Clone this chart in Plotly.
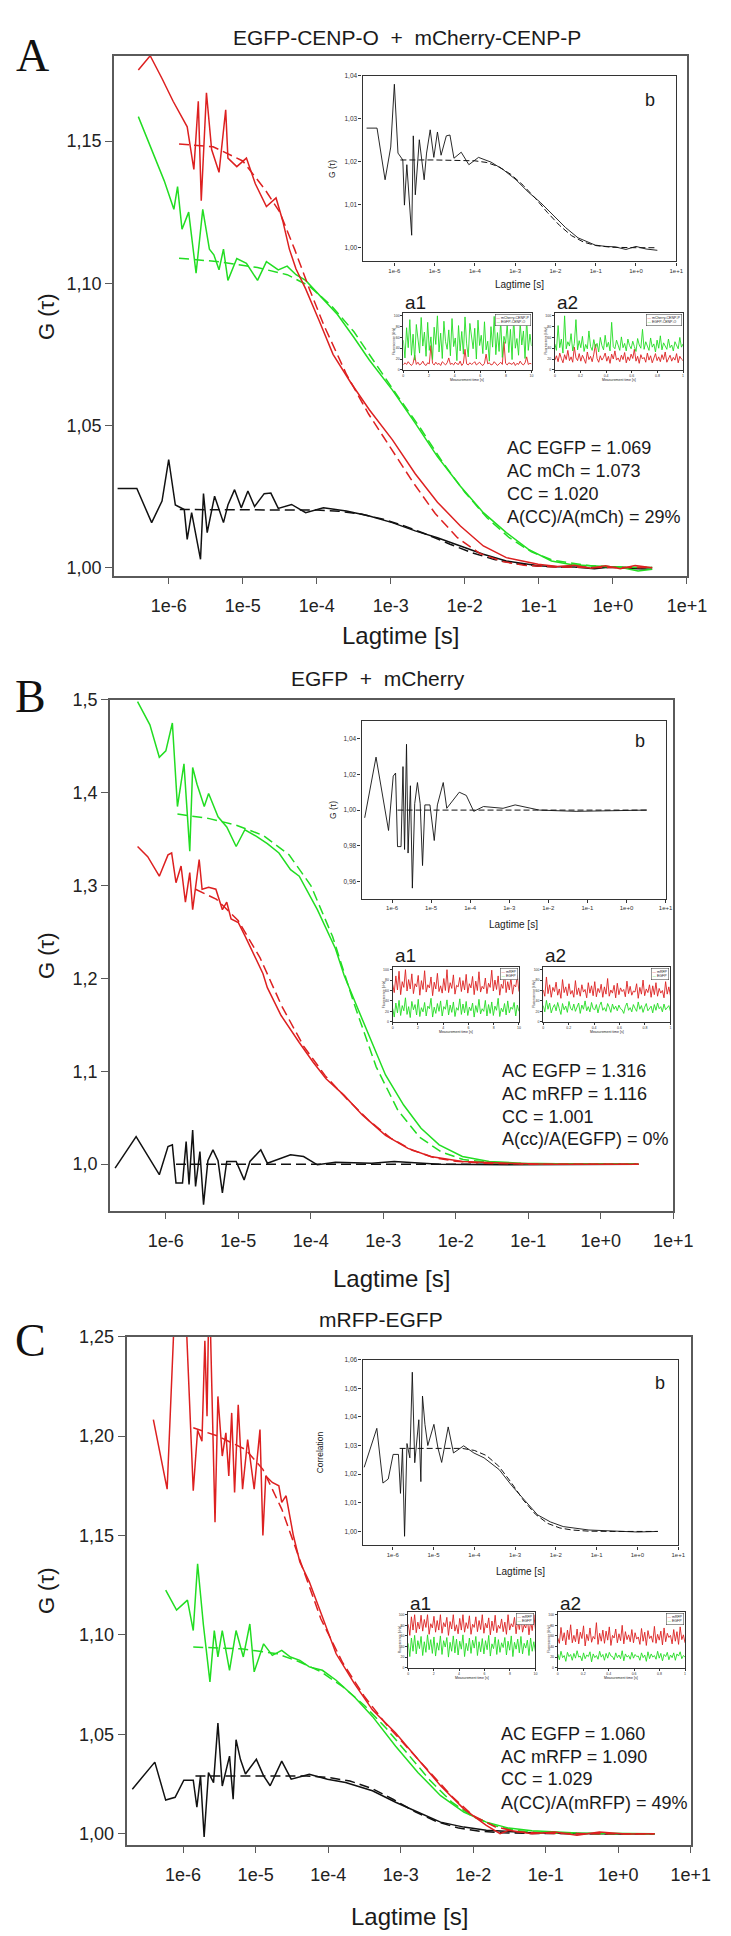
import numpy as np
import plotly.graph_objects as go

# ---------------- data (lag times as log10 seconds) ----------------
A_red_t = [-6.41,-6.25,-6.09,-5.94,-5.75,-5.66,-5.60,-5.56,-5.49,-5.42,-5.32,-5.23,-5.20,-5.08,-4.95,-4.83,-4.68,-4.55,-4.46,-4.37,-4.28,-4.15,-3.97,-3.78,-3.54,-3.29,-2.98,-2.67,-2.37,-2.06,-1.75,-1.44,-1.01,-0.75,-0.52,-0.30,-0.10,0.10,0.30,0.53]
A_red_g = [1.175,1.180,1.172,1.164,1.155,1.140,1.164,1.129,1.167,1.147,1.139,1.161,1.144,1.141,1.144,1.135,1.127,1.130,1.122,1.112,1.105,1.098,1.087,1.075,1.065,1.0555,1.045,1.033,1.023,1.0146,1.0076,1.0035,1.0012,1.0004,1.0008,0.9998,1.0006,0.9996,1.0007,0.9999]
A_red_fit_t = [-5.86,-5.4,-5.0,-4.7,-4.5,-4.3,-4.1,-3.9,-3.6,-3.3,-3.0,-2.7,-2.4,-2.1,-1.8,-1.5,-1.2,-0.8,-0.3,0.2,0.53]
A_red_fit_g = [1.149,1.148,1.143,1.133,1.125,1.112,1.098,1.085,1.068,1.054,1.042,1.030,1.019,1.0105,1.005,1.0022,1.0008,1.0002,1.0,1.0,1.0]
A_green_t = [-6.41,-6.25,-6.06,-5.93,-5.88,-5.82,-5.73,-5.63,-5.54,-5.45,-5.39,-5.32,-5.26,-5.20,-5.08,-4.95,-4.80,-4.68,-4.52,-4.40,-4.28,-4.15,-3.97,-3.72,-3.50,-3.29,-2.98,-2.67,-2.37,-2.06,-1.75,-1.44,-1.14,-0.83,-0.55,-0.33,-0.10,0.10,0.34,0.53]
A_green_g = [1.1586,1.148,1.136,1.126,1.134,1.119,1.125,1.1035,1.126,1.112,1.110,1.1047,1.112,1.101,1.1087,1.107,1.101,1.1076,1.1047,1.106,1.103,1.101,1.096,1.089,1.081,1.073,1.0625,1.0508,1.039,1.0286,1.0193,1.0123,1.0064,1.0023,1.0010,1.0006,1.0004,1.0001,0.9988,0.9994]
A_green_fit_t = [-5.86,-5.3,-4.8,-4.4,-4.1,-3.8,-3.5,-3.2,-2.9,-2.6,-2.3,-2.0,-1.7,-1.4,-1.1,-0.8,-0.3,0.2,0.53]
A_green_fit_g = [1.1088,1.1075,1.1055,1.103,1.099,1.092,1.083,1.0715,1.060,1.049,1.037,1.0265,1.0175,1.0105,1.0055,1.0025,1.0006,1.0001,1.0]
A_black_t = [-6.69,-6.43,-6.23,-6.09,-6.00,-5.91,-5.79,-5.75,-5.69,-5.65,-5.57,-5.53,-5.48,-5.38,-5.26,-5.20,-5.11,-5.02,-4.93,-4.84,-4.71,-4.62,-4.52,-4.34,-4.15,-3.91,-3.60,-3.29,-2.98,-2.67,-2.37,-2.06,-1.75,-1.44,-1.01,-0.75,-0.52,-0.25,0.0,0.25,0.53]
A_black_g = [1.0278,1.0278,1.0158,1.0234,1.038,1.022,1.0204,1.0099,1.0193,1.0140,1.0029,1.026,1.0123,1.0251,1.0158,1.0220,1.0274,1.0210,1.0269,1.0215,1.026,1.0262,1.0208,1.0222,1.0193,1.0210,1.0199,1.0181,1.0158,1.0129,1.0105,1.0076,1.0047,1.0023,1.0006,1.0003,1.0002,0.9996,1.0003,0.9997,0.9994]
A_black_fit_t = [-5.85,-5.0,-4.0,-3.7,-3.4,-3.1,-2.8,-2.5,-2.2,-1.9,-1.6,-1.3,-1.0,-0.6,0.0,0.53]
A_black_fit_g = [1.0204,1.0204,1.0202,1.0198,1.0188,1.0170,1.0145,1.0115,1.0082,1.0052,1.0028,1.0013,1.0005,1.0001,1.0,1.0]

B_red_t = [-6.39,-6.25,-6.09,-5.97,-5.92,-5.86,-5.79,-5.73,-5.67,-5.63,-5.54,-5.50,-5.41,-5.31,-5.22,-5.16,-5.10,-5.00,-4.91,-4.78,-4.66,-4.60,-4.41,-4.16,-3.97,-3.79,-3.54,-3.29,-2.97,-2.66,-2.35,-1.91,-1.29,-0.70,0.0,0.52]
B_red_g = [1.342,1.331,1.310,1.333,1.335,1.303,1.321,1.282,1.314,1.274,1.328,1.296,1.298,1.296,1.274,1.282,1.264,1.260,1.246,1.225,1.205,1.190,1.160,1.131,1.110,1.092,1.074,1.053,1.031,1.017,1.0082,1.0029,1.001,1.0,1.0,1.0]
B_red_fit_t = [-5.59,-5.3,-5.0,-4.7,-4.4,-4.1,-3.8,-3.5,-3.2,-2.9,-2.6,-2.3,-2.0,-1.6,-1.0,-0.4,0.52]
B_red_fit_g = [1.296,1.285,1.262,1.222,1.170,1.127,1.095,1.070,1.047,1.028,1.015,1.007,1.003,1.001,1.0,1.0,1.0]
B_green_t = [-6.39,-6.22,-6.09,-6.00,-5.91,-5.84,-5.75,-5.67,-5.63,-5.57,-5.47,-5.41,-5.28,-5.16,-5.03,-4.91,-4.75,-4.60,-4.44,-4.28,-4.16,-3.91,-3.66,-3.54,-3.35,-3.16,-2.97,-2.72,-2.48,-2.23,-1.91,-1.54,-1.10,-0.60,0.0,0.52]
B_green_g = [1.498,1.473,1.438,1.445,1.475,1.385,1.431,1.337,1.427,1.409,1.385,1.399,1.374,1.363,1.342,1.360,1.353,1.345,1.335,1.317,1.310,1.274,1.232,1.203,1.167,1.131,1.096,1.0636,1.0386,1.0207,1.0082,1.0029,1.001,1.0005,1.0,1.0]
B_green_fit_t = [-5.84,-5.4,-5.03,-4.66,-4.3,-4.0,-3.7,-3.4,-3.1,-2.8,-2.5,-2.2,-1.9,-1.5,-1.0,-0.4,0.52]
B_green_fit_g = [1.377,1.372,1.365,1.354,1.333,1.300,1.245,1.172,1.105,1.058,1.029,1.013,1.005,1.0015,1.0003,1.0,1.0]
B_black_t = [-6.70,-6.41,-6.09,-5.97,-5.91,-5.86,-5.77,-5.72,-5.68,-5.63,-5.59,-5.53,-5.48,-5.42,-5.35,-5.28,-5.22,-5.16,-5.03,-4.92,-4.84,-4.69,-4.60,-4.41,-4.28,-4.10,-3.91,-3.66,-3.16,-2.85,-2.23,-1.29,-0.5,0.52]
B_black_g = [0.9957,1.0296,0.9886,1.019,1.0207,0.9796,0.9796,1.0243,0.978,1.0368,0.976,1.0136,0.9564,1.0036,1.0154,1.0036,0.969,1.0029,1.0029,0.983,1.0029,1.0154,1.001,1.0064,1.0100,1.0082,0.9993,1.002,1.001,1.0029,1.0,0.9993,0.9996,1.0]
B_black_fit_t = [-5.86,0.52]
B_black_fit_g = [1.0,1.0]

C_red_t = [-6.41,-6.22,-6.11,-5.96,-5.86,-5.80,-5.74,-5.70,-5.67,-5.64,-5.56,-5.52,-5.46,-5.41,-5.37,-5.33,-5.29,-5.24,-5.18,-5.11,-5.02,-4.94,-4.90,-4.86,-4.77,-4.68,-4.64,-4.58,-4.48,-4.39,-4.26,-4.14,-4.08,-3.89,-3.64,-3.39,-3.07,-2.76,-2.45,-2.13,-1.82,-1.63,-1.51,-1.19,-0.88,-0.57,-0.26,0.1,0.5]
C_red_g = [1.2083,1.1733,1.27,1.26,1.1725,1.203,1.1975,1.248,1.21,1.28,1.1567,1.22,1.19,1.2017,1.18,1.2117,1.1717,1.2158,1.1733,1.1983,1.1733,1.2033,1.15,1.18,1.1767,1.175,1.1667,1.17,1.15,1.1367,1.1267,1.115,1.1088,1.0905,1.0756,1.0623,1.0507,1.0374,1.0241,1.0125,1.0042,1.0,1.0017,1.0,1.0008,0.9992,1.0008,0.9998,1.0]
C_red_fit_t = [-5.86,-5.52,-5.14,-4.9,-4.64,-4.39,-4.1,-3.8,-3.5,-3.2,-2.9,-2.6,-2.3,-2.0,-1.7,-1.4,-1.0,-0.5,0.5]
C_red_fit_g = [1.2042,1.20,1.1933,1.1833,1.1633,1.138,1.108,1.086,1.069,1.055,1.043,1.031,1.019,1.009,1.0035,1.001,1.0002,1.0,1.0]
C_green_t = [-6.24,-6.09,-5.94,-5.86,-5.80,-5.72,-5.63,-5.57,-5.52,-5.46,-5.36,-5.27,-5.17,-5.08,-5.02,-4.89,-4.77,-4.64,-4.52,-4.39,-4.26,-4.08,-3.89,-3.64,-3.39,-3.07,-2.76,-2.45,-2.13,-1.82,-1.51,-1.19,-0.57,0.0,0.5]
C_green_g = [1.1225,1.1125,1.1175,1.1022,1.1358,1.105,1.0764,1.1022,1.0889,1.1022,1.0822,1.1022,1.0889,1.1055,1.0814,1.0955,1.0897,1.0922,1.0889,1.0872,1.0839,1.0822,1.0772,1.0689,1.059,1.044,1.0307,1.0191,1.0108,1.0058,1.0028,1.0015,1.0003,1.0,1.0]
C_green_fit_t = [-5.86,-5.2,-4.7,-4.4,-4.1,-3.8,-3.5,-3.2,-2.9,-2.6,-2.3,-2.0,-1.7,-1.4,-1.0,-0.5,0.5]
C_green_fit_g = [1.0939,1.093,1.0905,1.0865,1.0815,1.074,1.0645,1.053,1.040,1.027,1.016,1.0085,1.004,1.0015,1.0004,1.0,1.0]
C_black_t = [-6.70,-6.39,-6.24,-6.11,-5.99,-5.86,-5.81,-5.76,-5.71,-5.65,-5.58,-5.52,-5.46,-5.36,-5.31,-5.27,-5.21,-5.14,-4.99,-4.89,-4.80,-4.64,-4.51,-4.39,-4.26,-4.01,-3.76,-3.39,-3.07,-2.76,-2.45,-2.13,-1.82,-1.19,-0.6,0.0,0.5]
C_black_g = [1.0224,1.036,1.0169,1.0183,1.0269,1.0269,1.0133,1.0291,0.9983,1.0307,1.0257,1.0556,1.024,1.039,1.0174,1.0473,1.0374,1.030,1.0374,1.0291,1.0241,1.0365,1.0274,1.0285,1.0299,1.0274,1.0257,1.0216,1.0158,1.0108,1.0058,1.0033,1.0017,1.0005,1.0002,0.9998,1.0]
C_black_fit_t = [-5.83,-4.3,-4.0,-3.7,-3.4,-3.1,-2.8,-2.5,-2.2,-1.9,-1.6,-1.2,-0.6,0.5]
C_black_fit_g = [1.029,1.029,1.0283,1.0265,1.0228,1.0172,1.0110,1.0060,1.0028,1.0012,1.0005,1.0001,1.0,1.0]

# intensity traces (insets a1 / a2), arbitrary units 0-105
A_a1_red = [9,13,10,15,11,8,12,27,10,14, 9,11,16,10,8,13,11,45,12,9, 14,10,12,8,15,11,9,13,22,10, 12,9,14,11,10,16,8,12,38,11,
            9,13,10,12,15,9,11,14,10,8, 12,29,11,13,9,10,15,12,8,11, 14,10,52,12,9,13,11,10,14,8, 12,10,16,11,9,13,24,10,12,11]
A_a1_green = [55,22,78,41,93,27,66,18,84,50, 31,97,44,70,25,88,36,61,19,79, 47,100,33,68,21,90,52,38,74,26, 95,43,59,17,82,35,71,29,98,48,
              24,86,57,39,77,20,92,45,64,30, 89,37,53,16,80,42,99,28,69,34, 91,23,62,49,85,32,75,19,96,40, 58,27,87,46,72,21,94,36,66,44]
A_a2_red = [18,26,15,31,21,13,28,19,36,17, 24,14,42,22,17,30,16,27,20,12, 33,19,25,15,29,47,21,14,26,18, 23,31,16,25,12,29,20,35,18,22,
            15,27,19,32,13,24,17,29,21,38, 16,25,12,28,20,23,14,31,18,26, 13,22,30,17,24,15,28,19,33,14, 21,27,16,23,18,30,13,25,20,17]
A_a2_green = [48,36,82,41,57,31,100,39,52,44, 67,35,49,93,37,54,41,62,34,47, 39,72,43,36,56,41,49,33,60,45, 37,64,42,51,35,88,43,39,55,47,
              36,61,41,49,35,57,45,39,53,43, 34,58,46,40,75,38,52,44,36,59, 42,48,33,55,40,63,37,50,45,38, 57,41,46,35,52,44,39,60,42,48]
B_a1_red = [72,56,88,61,97,52,77,66,100,59, 81,63,92,54,73,67,89,51,79,62, 98,57,71,65,86,50,76,63,93,58, 69,55,83,60,100,56,75,64,90,53,
            70,67,85,58,79,61,91,55,73,65, 87,52,78,60,96,57,68,63,84,54, 74,66,99,59,80,62,88,51,72,64, 94,56,77,61,85,53,71,67,89,58]
B_a1_green = [26,9,36,17,41,12,31,21,46,14, 29,8,39,23,33,13,43,10,27,19, 37,11,30,25,45,9,28,16,35,20, 40,11,29,24,42,13,32,18,38,10,
              27,22,44,14,34,17,39,12,28,21, 36,9,31,18,43,15,25,20,41,11, 33,16,38,12,30,22,45,10,26,19, 35,13,40,17,28,24,37,11,32,20]
B_a2_red = [61,49,86,54,71,47,66,58,76,51, 63,45,81,56,67,50,73,53,60,47, 79,52,65,49,71,57,62,46,75,55, 69,50,77,48,64,56,72,47,67,53,
            83,49,61,55,70,46,74,52,65,58, 62,48,78,54,68,51,59,57,73,45, 66,53,80,50,63,56,71,47,69,52, 75,49,64,55,60,46,77,53,67,50]
B_a2_green = [31,19,41,24,36,17,27,33,21,37, 25,14,35,23,30,18,39,26,22,34, 20,28,36,16,32,24,40,21,29,19, 37,25,23,33,17,31,38,22,27,20,
              35,28,18,34,24,30,21,32,25,23, 16,29,36,22,27,19,33,26,20,38, 24,31,18,28,35,21,26,30,17,33, 22,36,25,29,19,34,23,27,31,20]
C_a1_red = [82,61,96,71,100,66,86,73,99,69, 91,76,100,63,83,75,97,67,89,71, 100,65,85,77,95,61,87,73,100,69, 81,64,93,71,100,67,85,74,98,63,
            82,76,96,68,89,72,100,65,84,75, 94,62,88,70,99,66,80,74,92,68, 86,63,100,71,83,77,95,64,90,72, 98,67,81,75,93,62,87,70,100,73]
C_a1_green = [46,21,56,31,61,26,51,36,59,23, 49,29,62,34,53,27,58,22,47,33, 60,25,51,39,57,20,48,31,60,28, 54,24,50,35,62,21,46,32,56,27,
              52,37,59,23,49,30,55,26,51,34, 61,22,45,36,58,25,53,29,47,38, 57,24,50,33,60,21,48,35,54,28, 59,26,46,37,52,23,56,31,49,30]
C_a2_red = [56,46,76,51,66,43,71,53,81,47, 61,49,73,45,67,55,79,41,63,51, 75,48,59,54,85,44,65,50,71,46, 69,52,77,42,61,56,73,47,64,51,
            80,45,68,53,62,49,72,47,66,54, 58,44,74,50,67,42,70,55,60,48, 78,46,63,52,69,43,75,49,65,57, 61,45,72,50,68,44,77,53,62,47]
C_a2_green = [26,15,31,19,23,12,29,21,25,14, 27,18,32,20,22,13,28,17,24,21, 30,11,26,19,23,16,31,20,25,14, 27,18,29,22,21,15,28,19,24,17,
              32,13,26,20,23,16,29,18,25,21, 22,14,28,19,24,12,30,17,26,20, 23,16,31,18,27,13,25,21,29,15, 24,19,28,14,26,22,30,17,23,20]

decade_vals = [1e-6, 1e-5, 1e-4, 1e-3, 1e-2, 1e-1, 1e0, 1e1]
decade_text = ['1e-6', '1e-5', '1e-4', '1e-3', '1e-2', '1e-1', '1e+0', '1e+1']

titles = ['EGFP-CENP-O\u00a0\u00a0+\u00a0\u00a0mCherry-CENP-P', 'EGFP\u00a0\u00a0+\u00a0\u00a0mCherry', 'mRFP-EGFP']
letters = ['A', 'B', 'C']
texts = [
    ['AC EGFP = 1.069', 'AC mCh = 1.073', 'CC = 1.020', 'A(CC)/A(mCh) = 29%'],
    ['AC EGFP = 1.316', 'AC mRFP = 1.116', 'CC = 1.001', 'A(cc)/A(EGFP) = 0%'],
    ['AC EGFP = 1.060', 'AC mRFP = 1.090', 'CC = 1.029', 'A(CC)/A(mRFP) = 49%'],
]
legend_names = [('mCherry-CENP-P', 'EGFP-CENP-O'), ('mRFP', 'EGFP'), ('mRFP', 'EGFP')]

RED = '#dd2020'
GREEN = '#22dd22'
BLACK = '#111111'
FONT = 'Arial, Liberation Sans, sans-serif'
W, H = 731, 1936

def px(x):
    return x / W

def py(y):
    return 1 - y / H

panels = [
    dict(data=dict(red=(A_red_t, A_red_g), redfit=(A_red_fit_t, A_red_fit_g), green=(A_green_t, A_green_g),
                   greenfit=(A_green_fit_t, A_green_fit_g), black=(A_black_t, A_black_g), blackfit=(A_black_fit_t, A_black_fit_g)),
         a1=(A_a1_red, A_a1_green), a2=(A_a2_red, A_a2_green),
         main=(108, 698, 38, 561), xlo=-6.74, yr=(0.9972, 1.18), yt=[1.00, 1.05, 1.10, 1.15], yfmt='{:.2f}',
         b=(364, 687, 58, 245), bxlo=-6.79, byr=(0.9968, 1.04), byt=[1.00, 1.01, 1.02, 1.03, 1.04], bytitle='G (\u03c4)', bytx=332,
         a1box=(406, 538, 297, 354), a2box=(562, 694, 297, 354), alab_y=286,
         text_x=511, text_y=[433, 456, 479, 502],
         title=(410, 20), letter=(24, 38), ytitle=(38, 300), xtitle=(403, 621), bxlab=268, bletter=(660, 83)),
    dict(data=dict(red=(B_red_t, B_red_g), redfit=(B_red_fit_t, B_red_fit_g), green=(B_green_t, B_green_g),
                   greenfit=(B_green_fit_t, B_green_fit_g), black=(B_black_t, B_black_g), blackfit=(B_black_fit_t, B_black_fit_g)),
         a1=(B_a1_red, B_a1_green), a2=(B_a2_red, B_a2_green),
         main=(104, 684, 686, 1200), xlo=-6.77, yr=(0.95, 1.5), yt=[1.0, 1.1, 1.2, 1.3, 1.4, 1.5], yfmt='{:.1f}',
         b=(363, 676, 707, 886), bxlo=-6.78, byr=(0.9506, 1.05), byt=[0.96, 0.98, 1.00, 1.02, 1.04], bytitle='G (\u03c4)', bytx=333,
         a1box=(395, 525, 955, 1010), a2box=(550, 681, 955, 1010), alab_y=943,
         text_x=506, text_y=[1060, 1083, 1106, 1128],
         title=(380, 665), letter=(22, 683), ytitle=(38, 943), xtitle=(394, 1268), bxlab=912, bletter=(650, 728)),
    dict(data=dict(red=(C_red_t, C_red_g), redfit=(C_red_fit_t, C_red_fit_g), green=(C_green_t, C_green_g),
                   greenfit=(C_green_fit_t, C_green_fit_g), black=(C_black_t, C_black_g), blackfit=(C_black_fit_t, C_black_fit_g)),
         a1=(C_a1_red, C_a1_green), a2=(C_a2_red, C_a2_green),
         main=(121, 702, 1327, 1838), xlo=-6.78, yr=(0.9945, 1.25), yt=[1.00, 1.05, 1.10, 1.15, 1.20, 1.25], yfmt='{:.2f}',
         b=(364, 689, 1350, 1537), bxlo=-6.74, byr=(0.9951, 1.06), byt=[1.00, 1.01, 1.02, 1.03, 1.04, 1.05, 1.06], bytitle='Correlation', bytx=320,
         a1box=(411, 542, 1604, 1660), a2box=(565, 696, 1604, 1660), alab_y=1595,
         text_x=504, text_y=[1727, 1750, 1772, 1796],
         title=(383, 1310), letter=(22, 1331), ytitle=(38, 1582), xtitle=(412, 1910), bxlab=1563, bletter=(670, 1374)),
]

fig = go.Figure()
layout = {}
annotations = []


def names(k):
    return ('x' if k == 1 else f'x{k}'), ('y' if k == 1 else f'y{k}')


def add_axes(k, box, xcfg, ycfg):
    left, right, top, bottom = box
    xr, yr = names(k)
    layout['xaxis' if k == 1 else f'xaxis{k}'] = dict(domain=[px(left), px(right)], anchor=yr, **xcfg)
    layout['yaxis' if k == 1 else f'yaxis{k}'] = dict(domain=[py(bottom), py(top)], anchor=xr, **ycfg)
    return xr, yr


def ann(x, y, text, size, **kw):
    d = dict(x=px(x), y=py(y), xref='paper', yref='paper', text=text, showarrow=False,
             font=dict(size=size, family=kw.pop('family', FONT), color=kw.pop('color', '#1a1a1a')),
             xanchor=kw.pop('xanchor', 'center'), yanchor=kw.pop('yanchor', 'middle'))
    d.update(kw)
    annotations.append(d)


def comma(vals, fmt):
    return [fmt.format(v).replace('.', ',') for v in vals]


def lag(t):
    return [10 ** v for v in t]


for i, p in enumerate(panels):
    k0 = 4 * i + 1
    D = p['data']
    # ---- main plot
    base = dict(showline=True, mirror=True, linecolor='#5a5a5a', linewidth=1.6, ticks='outside',
                tickcolor='#5a5a5a', ticklen=7, tickwidth=1.4, showgrid=False, zeroline=False, fixedrange=True)
    xm, ym = add_axes(k0, p['main'],
                      dict(type='log', range=[p['xlo'], 1.0], tickvals=decade_vals, ticktext=decade_text,
                           tickfont=dict(size=18, family=FONT, color='#222'), ticklabelstandoff=6, **base),
                      dict(range=list(p['yr']), tickvals=p['yt'], ticktext=comma(p['yt'], p['yfmt']),
                           tickfont=dict(size=18, family=FONT, color='#222'), **base))
    for key, col, dash in [('blackfit', BLACK, 'dash'), ('black', BLACK, 'solid'),
                           ('greenfit', GREEN, 'dash'), ('green', GREEN, 'solid'),
                           ('redfit', RED, 'dash'), ('red', RED, 'solid')]:
        t, g = D[key]
        fig.add_trace(go.Scatter(x=lag(t), y=g, xaxis=xm, yaxis=ym, mode='lines', showlegend=False,
                                 line=dict(color=col, width=1.5, dash='10px,5px' if dash == 'dash' else 'solid')))
    # ---- inset b (cross-correlation)
    bbase = dict(showline=True, mirror=True, linecolor='#333', linewidth=1.2, ticks='outside',
                 tickcolor='#333', ticklen=3, tickwidth=0.8, showgrid=False, zeroline=False, fixedrange=True)
    xb, yb = add_axes(k0 + 1, p['b'],
                      dict(type='log', range=[p['bxlo'], 1.0], tickvals=decade_vals, ticktext=decade_text,
                           tickfont=dict(size=6, family=FONT, color='#333'), **bbase),
                      dict(range=list(p['byr']), tickvals=p['byt'], ticktext=comma(p['byt'], '{:.2f}'),
                           tickfont=dict(size=6.5, family=FONT, color='#333'), **bbase))
    t, g = D['blackfit']
    fig.add_trace(go.Scatter(x=lag(t), y=g, xaxis=xb, yaxis=yb, mode='lines', showlegend=False,
                             line=dict(color=BLACK, width=1.0, dash='6px,3px')))
    t, g = D['black']
    fig.add_trace(go.Scatter(x=lag(t), y=g, xaxis=xb, yaxis=yb, mode='lines', showlegend=False,
                             line=dict(color=BLACK, width=0.9)))
    bl, br, bt, bb = p['b']
    ann((bl + br) / 2, p['bxlab'], 'Lagtime [s]', 10)
    ann(p['bytx'], (bt + bb) / 2, p['bytitle'], 8.5, textangle=-90)
    ann(p['bletter'][0], p['bletter'][1], 'b', 18)
    # ---- insets a1 / a2 (intensity traces)
    abase = dict(showline=True, mirror=True, linecolor='#333', linewidth=1.0, ticks='outside',
                 tickcolor='#333', ticklen=2, tickwidth=0.6, showgrid=False, zeroline=False, fixedrange=True,
                 tickfont=dict(size=3.5, family=FONT, color='#333'))
    for j, (box, traces, xmax, lab) in enumerate([(p['a1box'], p['a1'], 10, 'a1'), (p['a2box'], p['a2'], 1, 'a2')]):
        xa, ya = add_axes(k0 + 2 + j, box,
                          dict(range=[0, xmax], dtick=xmax / 5, **abase),
                          dict(range=[0, 105], dtick=20, **abase))
        red_vals, green_vals = traces
        tt = np.linspace(0, xmax, len(red_vals))
        fig.add_trace(go.Scatter(x=tt, y=red_vals, xaxis=xa, yaxis=ya, mode='lines', showlegend=False,
                                 line=dict(color=RED, width=0.9)))
        fig.add_trace(go.Scatter(x=tt, y=green_vals, xaxis=xa, yaxis=ya, mode='lines', showlegend=False,
                                 line=dict(color=GREEN, width=0.9)))
        l, r, tp, bt2 = box
        ann(l, p['alab_y'], lab, 19, xanchor='left')
        ann((l + r) / 2, bt2 + 10, 'Measurement time [s]', 3.5)
        ann(l - 9, (tp + bt2) / 2, 'Fluorescence [kHz]', 3.2, textangle=-90)
        rn, gn = legend_names[i]
        ann(r - 1, tp + 1, f"<span style='color:{RED}'>\u2014</span> {rn}<br><span style='color:{GREEN}'>\u2014</span> {gn}",
            3.5, xanchor='right', yanchor='top', bgcolor='white', bordercolor='#333', borderwidth=0.5, borderpad=1,
            align='left')
    # ---- labels
    ann(p['title'][0], p['title'][1], titles[i], 21)
    ann(p['letter'][0], p['letter'][1], letters[i], 46, family='Liberation Serif, Times New Roman, serif', color='#111')
    ann(p['ytitle'][0], p['ytitle'][1], 'G (\u03c4)', 22, textangle=-90)
    ann(p['xtitle'][0], p['xtitle'][1], 'Lagtime [s]', 24)
    for line, yy in zip(texts[i], p['text_y']):
        ann(p['text_x'], yy, line, 18, xanchor='left')

fig.update_layout(width=W, height=H, margin=dict(l=0, r=0, t=0, b=0), paper_bgcolor='white',
                  plot_bgcolor='rgba(0,0,0,0)', showlegend=False, annotations=annotations, **layout)
fig.write_html('out.html')
